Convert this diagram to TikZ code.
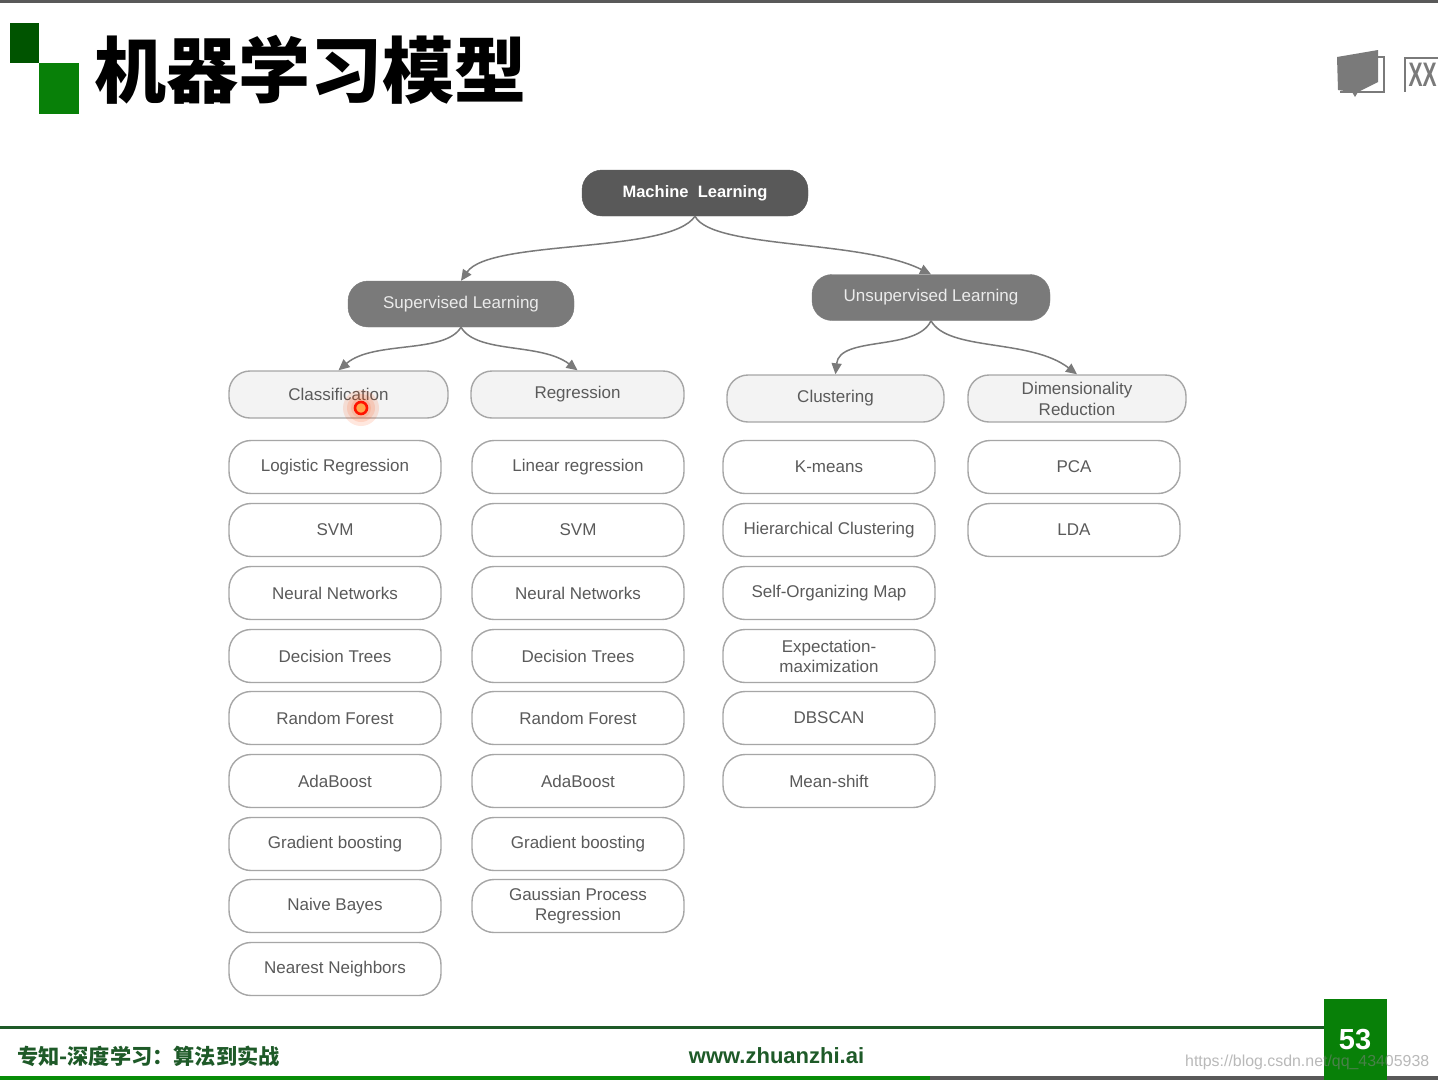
\documentclass[tikz,border=0pt]{standalone}
\usepackage{fontspec}
\setmainfont{Liberation Sans}
\newfontfamily\cjk{Noto Sans CJK SC}
\usepackage{xcolor}
\usetikzlibrary{arrows.meta}
\definecolor{slidegreen}{RGB}{8,128,8}
\definecolor{logodark}{RGB}{0,84,0}
\definecolor{footgreen}{RGB}{30,90,40}
\definecolor{rootgray}{RGB}{89,89,89}
\definecolor{branchgray}{RGB}{122,122,122}
\definecolor{palegray}{RGB}{243,243,243}
\definecolor{edgegray}{RGB}{166,166,166}
\definecolor{textgray}{RGB}{90,90,90}
\tikzset{
  rootbox/.style={draw=rootgray,fill=rootgray,rounded corners=20pt,minimum width=226pt,minimum height=46pt,inner sep=0pt,text=white,font=\fontsize{16.5}{18}\selectfont\bfseries},
  branchbox/.style={draw=branchgray,fill=branchgray,rounded corners=20pt,minimum height=46pt,inner sep=0pt,text=white!92!black,font=\fontsize{17}{19}\selectfont},
  groupbox/.style={draw=edgegray,line width=1.4pt,fill=palegray,rounded corners=21pt,minimum height=47pt,inner sep=0pt,align=center,text=textgray,font=\fontsize{17}{21}\selectfont},
  leafbox/.style={draw=edgegray,line width=1.4pt,fill=white,rounded corners=22pt,minimum width=212pt,minimum height=53pt,inner sep=0pt,align=center,text=textgray,font=\fontsize{17}{20}\selectfont},
  link/.style={draw=branchgray,line width=1.5pt,-{Triangle[length=11pt,width=10pt]}}
}
\begin{document}
\begin{tikzpicture}[x=1pt,y=1pt]
  \useasboundingbox (0,0) rectangle (1438,-1080);
  \fill[white] (0,0) rectangle (1438,-1080);
  \fill[rootgray] (0,0) rectangle (1438,-3);
  \fill[logodark] (10,-23) rectangle (39,-63);
  \fill[slidegreen] (39,-63) rectangle (79,-114);
  \node[anchor=west,inner sep=0pt,font=\cjk\fontsize{72}{72}\selectfont\bfseries] (title) at (94,-70) {机器学习模型};
  \node[rootbox] (root) at (695,-193) {Machine~~Learning};
  \node[branchbox,minimum width=226pt] (sup) at (461,-304) {Supervised Learning};
  \node[branchbox,minimum width=238pt] (unsup) at (931,-297.5) {Unsupervised Learning};
  \node[groupbox,minimum width=219pt] (classif) at (338.5,-394.5) {Classification};
  \node[groupbox,minimum width=213pt] (regress) at (577.5,-394.5) {Regression};
  \node[groupbox,minimum width=217pt] (cluster) at (835.5,-398.5) {Clustering};
  \node[groupbox,minimum width=218pt] (dimred) at (1077,-398.5) {Dimensionality\\Reduction};
  \draw[link] (root.south) .. controls +(-25,-38) and +(29,42) .. (sup.north);
  \draw[link] (root.south) .. controls +(17,-33) and +(-70,35) .. (unsup.north);
  \draw[link] (sup.south) .. controls +(-16,-27) and +(35,30) .. (classif.north);
  \draw[link] (sup.south) .. controls +(16,-27) and +(-37,28) .. (regress.north);
  \draw[link] (unsup.south) .. controls +(-14,-31) and +(4,39) .. (cluster.north);
  \draw[link] (unsup.south) .. controls +(17,-31) and +(-47,36) .. (dimred.north);
  \foreach \ypos/\idx/\lab in {467/1/Logistic Regression,530/2/SVM,593/3/Neural Networks,656/4/Decision Trees,718/5/Random Forest,781/6/AdaBoost,844/7/Gradient boosting,906/8/Naive Bayes,969/9/Nearest Neighbors}
    \node[leafbox] (classif\idx) at (335,-\ypos) {\lab};
  \foreach \ypos/\idx/\lab in {467/1/Linear regression,530/2/SVM,593/3/Neural Networks,656/4/Decision Trees,718/5/Random Forest,781/6/AdaBoost,844/7/Gradient boosting,906/8/{Gaussian Process\\Regression}}
    \node[leafbox] (regress\idx) at (578,-\ypos) {\lab};
  \foreach \ypos/\idx/\lab in {467/1/K-means,530/2/Hierarchical Clustering,593/3/Self-Organizing Map,656/4/{Expectation-\\maximization},718/5/DBSCAN,781/6/Mean-shift}
    \node[leafbox] (cluster\idx) at (829,-\ypos) {\lab};
  \foreach \ypos/\idx/\lab in {467/1/PCA,530/2/LDA}
    \node[leafbox] (dimred\idx) at (1074,-\ypos) {\lab};
  \foreach \glow in {18,14,10}
    \fill[orange!55!red,opacity=0.13] (361,-408) circle (\glow pt);
  \draw[red!85!orange,line width=2.6pt,fill=orange!70!white] (361,-408) circle (6pt);
  \fill[branchgray] (1337,-57) -- (1378,-50) -- (1378,-82) -- (1358,-92) -- (1355,-97) -- (1352,-92) -- (1338,-90) -- cycle;
  \draw[branchgray,line width=1.5pt] (1378,-57) -- (1384,-57) -- (1384,-92) -- (1340,-92);
  \draw[branchgray,line width=2.5pt] (1438,-58) -- (1405,-58) -- (1405,-92);
  \node[anchor=west,inner sep=0pt,text=branchgray,xscale=0.62,transform shape,font=\fontsize{34}{34}\selectfont\bfseries] (mark) at (1408.5,-75) {XX};
  \draw[footgreen,line width=3pt] (0,-1027.5) -- (1325,-1027.5);
  \fill[slidegreen!90!green] (0,-1076) rectangle (930,-1080);
  \fill[rootgray] (930,-1076) rectangle (1438,-1080);
  \fill[slidegreen] (1324,-999) rectangle (1387,-1080);
  \node[anchor=west,inner sep=0pt,text=footgreen,font=\cjk\fontsize{21.2}{22}\selectfont\bfseries] (course) at (17,-1056) {专知-深度学习：算法到实战};
  \node[inner sep=0pt,text=footgreen,font=\fontsize{22}{22}\selectfont\bfseries] (site) at (776.5,-1056) {www.zhuanzhi.ai};
  \node[inner sep=0pt,text=white,font=\fontsize{29}{29}\selectfont\bfseries] (page) at (1355,-1040) {53};
  \node[anchor=west,inner sep=0pt,text=gray,opacity=0.55,font=\fontsize{15.9}{17}\selectfont] (mark2) at (1185,-1062) {https://blog.csdn.net/qq\_43405938};
\end{tikzpicture}
\end{document}
